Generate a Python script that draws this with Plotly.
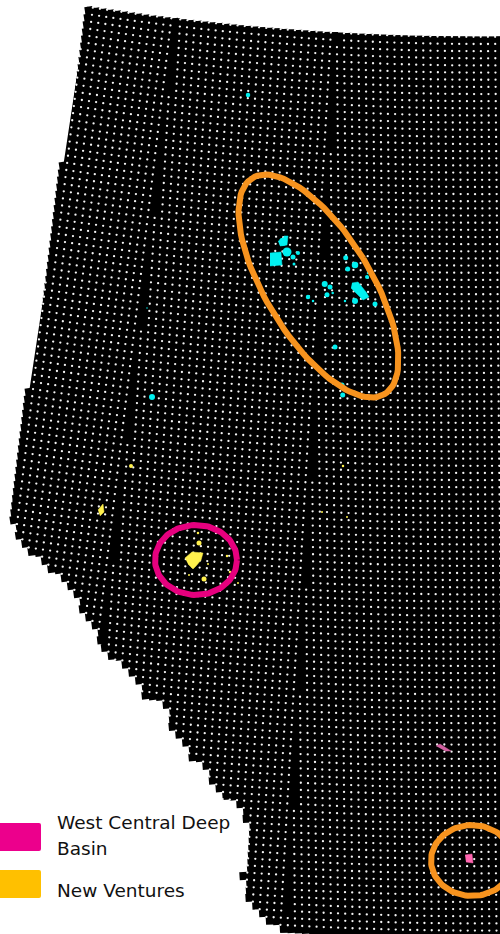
import numpy as np
import plotly.graph_objects as go

# Map coordinates are the picture frame of the reference (x right, y down)
township_rows = list(range(0, 126))
range_numbers = list(range(0, 80))
boundary_x = [91, 12, 13, 23, 38, 53, 65, 72, 82, 100, 102, 112, 127, 138, 142, 160, 170, 173, 185, 188, 203, 210, 220, 222, 237, 247, 248, 242, 248, 260, 272, 283, 380, 560, 560]
boundary_y = [-20, 505, 527, 545, 558, 570, 580, 593, 608, 635, 650, 660, 668, 680, 697, 700, 717, 733, 740, 755, 763, 780, 790, 800, 803, 820, 863, 878, 897, 912, 923, 930, 960, 960, -20]

cyan_x = [283, 287, 293, 298, 294, 345.7, 355, 347.7, 367, 368, 324.7, 330, 327, 308, 313, 332.7, 355, 345, 375, 335, 342, 342.7, 248, 152, 147]
cyan_y = [241.7, 252, 257, 253, 264, 257.7, 265, 269, 277, 273, 284, 287, 294.7, 297, 301, 293, 301, 301, 304, 347, 385, 395, 95, 397, 308]
cyan_s = [8, 9, 5, 4, 3, 5, 6.5, 5, 4, 2.5, 6, 5, 5, 4.5, 2.5, 2.5, 6, 2.5, 5, 5, 5, 5, 4.5, 6, 1.5]
cyan_block_x = [270, 281, 282, 270]
cyan_block_y = [253, 252, 265, 266]
cyan_long_x = [352, 358, 366, 369, 363, 355, 351]
cyan_long_y = [283, 282, 292, 297, 300, 292, 288]
cyan_top_x = [278, 283, 284, 288, 287, 280]
cyan_top_y = [241, 241, 236, 236, 245, 246]

yellow_x = [199, 198, 204, 227, 230, 131, 343, 322, 347, 208, 189, 238]
yellow_y = [543, 533, 579, 556, 572, 466, 466, 512, 517, 564, 575, 583]
yellow_s = [5, 2.5, 5, 2.5, 2.5, 4, 2.5, 2, 2, 2, 2, 2]
yellow_block_x = [185, 192, 203, 201, 196, 193, 188]
yellow_block_y = [558, 552, 553, 560, 566, 569, 564]
yellow_small_x = [98, 103, 104, 100]
yellow_small_y = [510, 504, 512, 516]

pink_block_x = [465, 472, 473, 466]
pink_block_y = [855, 854, 863, 862]
pink_thin_x = [436, 440, 451, 445]
pink_thin_y = [746, 744, 751, 751]

legend_labels = ["West Central Deep", "Basin", "New Ventures"]
legend_colors = ["#EC008C", "#FFC000"]

ellipse_cx = [318.5, 196, 472]
ellipse_cy = [286, 560, 860.5]
ellipse_a = [126.7, 41, 41]
ellipse_b = [52.6, 35, 35.5]
ellipse_tilt = [31.5, 0, 0]
ellipse_colors = ["#F7931E", "#E6007E", "#F7931E"]

# Projection: meridians converge on an apex above the frame
APEX_X, APEX_Y = 481.0, -2560.0
R0, DR = 2604.0, 7.15
W, GAP = 7.2, 3.6
meridians_deg = [-0.55, 3.235, 6.77, 12.0]  # from east to west

def project(theta, r):
    return APEX_X - r * np.sin(theta), APEX_Y + r * np.cos(theta)

def inside(px, py, polyx, polyy):
    px, py = np.asarray(px), np.asarray(py)
    res = np.zeros(px.shape, dtype=bool)
    n = len(polyx)
    for a in range(n):
        x1, y1, x2, y2 = polyx[a], polyy[a], polyx[(a + 1) % n], polyy[(a + 1) % n]
        if y1 == y2:
            continue
        cond = (y1 > py) != (y2 > py)
        res ^= cond & (px < (x2 - x1) * (py - y1) / (y2 - y1) + x1)
    return res

cx, cy, ca, dx, dy = [], [], [], [], []
for m in range(3):
    east = np.radians(meridians_deg[m])
    west = np.radians(meridians_deg[m + 1])
    for i in township_rows:
        r_dot = R0 + (i - 1) * DR
        r_cell = r_dot + DR / 2
        for k in range_numbers:
            t_cell = east + (k * W) / r_cell
            if t_cell <= west + 2.0 / r_cell:
                cx1, cy1 = project(t_cell, r_cell)
                cx.append(float(cx1)); cy.append(float(cy1)); ca.append(float(np.degrees(-t_cell)))
            t_dot = east + (GAP + k * W) / r_dot
            if t_dot < west - 3.0 / r_dot:
                x1, y1 = project(t_dot, r_dot)
                dx.append(float(x1)); dy.append(float(y1))

cx, cy, ca = np.array(cx), np.array(cy), np.array(ca)
dx, dy = np.array(dx), np.array(dy)
keep = inside(cx, cy, boundary_x, boundary_y) & (cx < 510) & (cy < 945)
cx, cy, ca = cx[keep], cy[keep], ca[keep]
keep_d = inside(dx, dy, boundary_x, boundary_y) & (dx < 505) & (dy < 940)
dx, dy = dx[keep_d], dy[keep_d]

# solid land under the cells: straight west edge, inset along the foothills so
# that the cells themselves give the stepped outline there
top_theta = np.radians(np.linspace(-1.8, 8.72, 30))
top_x, top_y = project(top_theta, R0 - DR)
inset_x = [v + 9 for v in boundary_x[2:-1]]
inset_y = [v - 5 for v in boundary_y[2:-1]]
land_x = [boundary_x[1]] + inset_x + list(top_x)
land_y = [boundary_y[1]] + inset_y + list(top_y)

fig = go.Figure()
fig.add_trace(go.Scatter(x=land_x, y=land_y, mode="lines", fill="toself", fillcolor="#000000",
    hoverinfo="skip", line=dict(width=0, color="#000000")))
fig.add_trace(go.Scatter(x=cx, y=cy, mode="markers", hoverinfo="skip",
    marker=dict(symbol="square", size=8.0, color="#000000", angle=ca, line=dict(width=0))))
fig.add_trace(go.Scatter(x=dx, y=dy, mode="markers", hoverinfo="skip",
    marker=dict(symbol="circle", size=2.3, color="#F4F4F4", line=dict(width=0))))

def poly(x, y, c):
    fig.add_trace(go.Scatter(x=x, y=y, mode="lines", fill="toself", fillcolor=c, hoverinfo="skip", line=dict(color=c, width=0.5)))

def spots(x, y, s, c):
    fig.add_trace(go.Scatter(x=x, y=y, mode="markers", hoverinfo="skip", marker=dict(size=s, color=c, opacity=1, line=dict(width=0))))

CYAN, YELLOW, PINK = "#00F0F0", "#FFF04D", "#FF66B0"
poly(cyan_block_x, cyan_block_y, CYAN)
poly(cyan_long_x, cyan_long_y, CYAN)
poly(cyan_top_x, cyan_top_y, CYAN)
spots(cyan_x, cyan_y, cyan_s, CYAN)
poly(yellow_block_x, yellow_block_y, YELLOW)
poly(yellow_small_x, yellow_small_y, YELLOW)
spots(yellow_x, yellow_y, yellow_s, YELLOW)
poly(pink_block_x, pink_block_y, PINK)
poly(pink_thin_x, pink_thin_y, "#D060A0")

t = np.radians(np.arange(0, 361, 3))
for xc, yc, a, b, tilt, c in zip(ellipse_cx, ellipse_cy, ellipse_a, ellipse_b, ellipse_tilt, ellipse_colors):
    ph = np.radians(tilt)
    if tilt == 0:
        ex = xc + a * np.cos(t)
        ey = yc + b * np.sin(t)
    else:
        ex = xc + b * np.cos(t) * np.cos(ph) + a * np.sin(t) * np.sin(ph)
        ey = yc - b * np.cos(t) * np.sin(ph) + a * np.sin(t) * np.cos(ph)
    fig.add_trace(go.Scatter(x=ex, y=ey, mode="lines", hoverinfo="skip", line=dict(color=c, width=6)))

# Legend
FONT = dict(family="DejaVu Sans", size=18.5, color="#111111")
for (y0, y1), c in zip([(823, 851), (870, 898)], legend_colors):
    path = f"M -6 {y0} L 39 {y0} Q 41 {y0} 41 {y0+2} L 41 {y1-2} Q 41 {y1} 39 {y1} L -6 {y1} Z"
    fig.add_shape(type="path", path=path, xref="x", yref="y", fillcolor=c, line=dict(width=0))
for text, yp in zip(legend_labels, [822, 848, 890]):
    fig.add_annotation(x=57, y=yp, xref="x", yref="y", text=text, showarrow=False, xanchor="left", yanchor="middle", font=FONT, xshift=-2)

fig.update_layout(width=500, height=934, autosize=False, showlegend=False,
    margin=dict(l=0, r=0, t=0, b=0), paper_bgcolor="white", plot_bgcolor="white",
    xaxis=dict(range=[0, 500], visible=False, fixedrange=True),
    yaxis=dict(range=[934, 0], visible=False, fixedrange=True))
fig.write_html("out.html", config={"displayModeBar": False},
    post_script="document.body.style.margin='0';document.documentElement.style.overflow='hidden';")
